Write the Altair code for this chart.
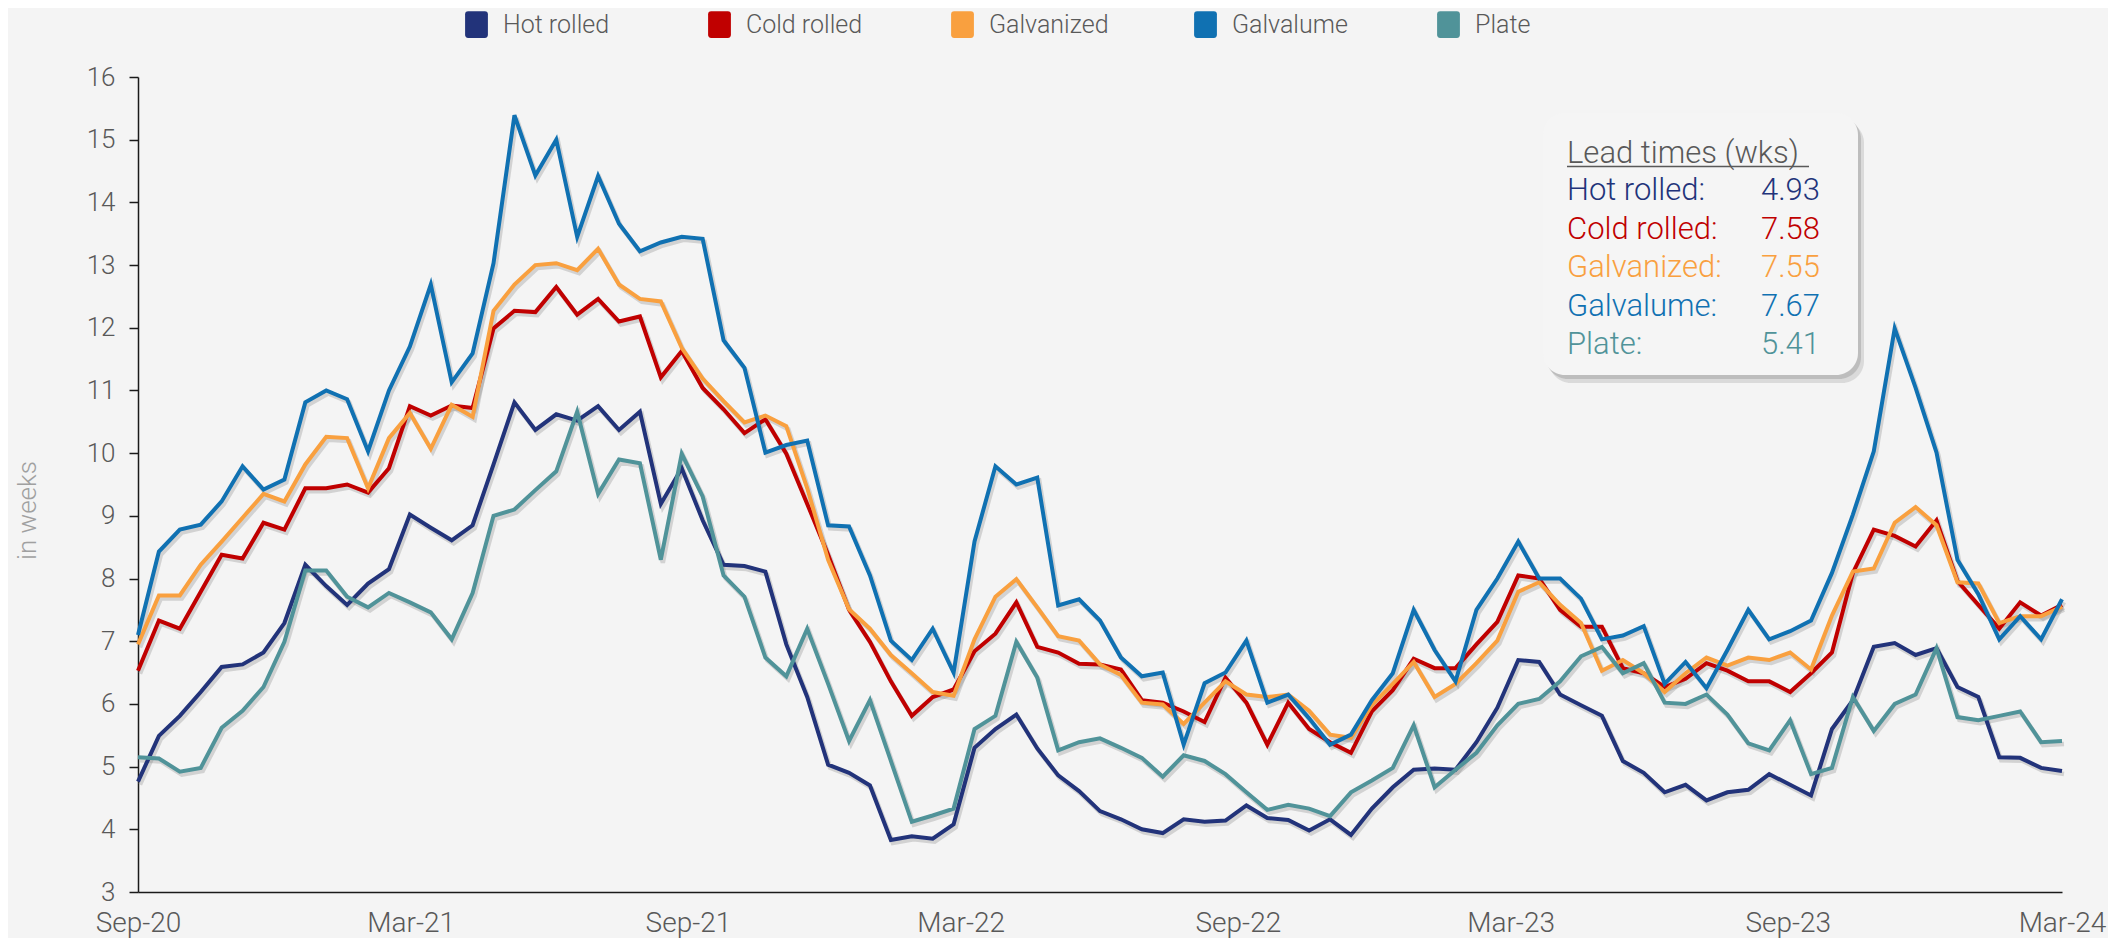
import altair as alt
import pandas as pd

FONT = "Roboto"
series_names = ["Hot rolled", "Cold rolled", "Galvanized", "Galvalume", "Plate"]
series_colors = ["#22337a", "#c00000", "#f9a03f", "#1071b2", "#509399"]

hot_rolled = [4.76, 5.49, 5.81, 6.19, 6.59, 6.63, 6.82, 7.29, 8.22, 7.88, 7.58, 7.92, 8.15, 9.02, 8.81, 8.61, 8.85, 9.82, 10.81, 10.37, 10.62, 10.52, 10.75, 10.37,
              10.66, 9.19, 9.76, 8.93, 8.22, 8.20, 8.11, 6.95, 6.11, 5.03, 4.90, 4.70, 3.83, 3.89, 3.85, 4.08, 5.30, 5.60, 5.83, 5.29, 4.86, 4.61,
              4.29, 4.16, 4.00, 3.94, 4.16, 4.12, 4.14, 4.38, 4.18, 4.15, 3.98, 4.16, 3.91, 4.33, 4.67, 4.95, 4.97, 4.95, 5.39, 5.94, 6.70, 6.67,
              6.15, 5.98, 5.81, 5.09, 4.90, 4.59, 4.71, 4.46, 4.59, 4.63, 4.88, 4.71, 4.54, 5.60, 6.06, 6.91, 6.97, 6.78, 6.89, 6.27, 6.11, 5.15, 5.14, 4.98, 4.93]
cold_rolled = [6.53, 7.33, 7.20, 7.79, 8.38, 8.32, 8.89, 8.78, 9.44, 9.44, 9.50, 9.37, 9.76, 10.75, 10.60, 10.76, 10.72, 11.99, 12.27, 12.25, 12.65, 12.21, 12.46, 12.10,
               12.18, 11.21, 11.63, 11.04, 10.70, 10.32, 10.54, 9.99, 9.19, 8.38, 7.50, 6.99, 6.36, 5.81, 6.11, 6.23, 6.84, 7.12, 7.62, 6.91, 6.82, 6.64,
               6.63, 6.55, 6.06, 6.02, 5.88, 5.71, 6.42, 6.02, 5.35, 6.02, 5.60, 5.39, 5.22, 5.88, 6.22, 6.72, 6.57, 6.57, 6.95, 7.31, 8.05, 8.00,
               7.50, 7.23, 7.23, 6.57, 6.49, 6.27, 6.40, 6.65, 6.53, 6.36, 6.36, 6.19, 6.49, 6.82, 8.09, 8.78, 8.68, 8.51, 8.93, 7.96, 7.58, 7.20, 7.62, 7.41, 7.58]
galvanized = [6.95, 7.73, 7.73, 8.22, 8.59, 8.97, 9.35, 9.23, 9.82, 10.26, 10.24, 9.44, 10.24, 10.64, 10.07, 10.77, 10.58, 12.27, 12.69, 13.00, 13.03, 12.92, 13.26, 12.69,
              12.46, 12.42, 11.68, 11.19, 10.83, 10.49, 10.60, 10.43, 9.44, 8.30, 7.51, 7.20, 6.78, 6.49, 6.19, 6.13, 7.03, 7.71, 7.99, 7.54, 7.08, 7.01,
              6.63, 6.46, 6.02, 5.99, 5.68, 6.02, 6.36, 6.15, 6.11, 6.15, 5.89, 5.51, 5.46, 5.98, 6.32, 6.67, 6.11, 6.32, 6.65, 7.01, 7.79, 7.94,
              7.58, 7.29, 6.53, 6.70, 6.49, 6.19, 6.49, 6.74, 6.61, 6.74, 6.70, 6.82, 6.55, 7.41, 8.11, 8.16, 8.89, 9.14, 8.85, 7.94, 7.92, 7.29, 7.40, 7.40, 7.55]
galvalume = [7.10, 8.43, 8.78, 8.86, 9.23, 9.79, 9.42, 9.58, 10.81, 11.00, 10.86, 10.03, 11.00, 11.70, 12.69, 11.13, 11.59, 13.03, 15.39, 14.43, 15.00, 13.45, 14.42, 13.66,
             13.22, 13.36, 13.45, 13.42, 11.80, 11.36, 10.01, 10.13, 10.20, 8.85, 8.83, 8.05, 7.01, 6.70, 7.20, 6.50, 8.59, 9.79, 9.50, 9.61, 7.57, 7.67,
             7.33, 6.74, 6.44, 6.50, 5.35, 6.33, 6.50, 7.01, 6.02, 6.15, 5.77, 5.35, 5.51, 6.06, 6.49, 7.50, 6.86, 6.36, 7.50, 8.00, 8.59, 8.00,
             8.00, 7.68, 7.03, 7.09, 7.24, 6.32, 6.67, 6.25, 6.86, 7.50, 7.03, 7.16, 7.33, 8.09, 9.02, 10.03, 11.99, 11.04, 10.01, 8.30, 7.75, 7.03, 7.40, 7.03, 7.67]
plate = [5.15, 5.13, 4.92, 4.98, 5.62, 5.89, 6.27, 6.99, 8.13, 8.13, 7.71, 7.54, 7.77, 7.62, 7.46, 7.03, 7.77, 9.00, 9.10, 9.41, 9.71, 10.66, 9.35, 9.90,
         9.84, 8.30, 9.99, 9.31, 8.05, 7.71, 6.74, 6.44, 7.20, 6.32, 5.41, 6.06, 5.09, 4.12, 4.22, 4.33, 5.60, 5.81, 6.99, 6.42, 5.26, 5.39,
         5.45, 5.30, 5.14, 4.84, 5.18, 5.09, 4.88, 4.59, 4.31, 4.39, 4.33, 4.21, 4.59, 4.78, 4.98, 5.66, 4.67, 4.95, 5.22, 5.66, 6.00, 6.08,
         6.36, 6.76, 6.91, 6.49, 6.65, 6.02, 6.00, 6.15, 5.83, 5.37, 5.26, 5.74, 4.88, 4.98, 6.11, 5.57, 6.00, 6.15, 6.89, 5.79, 5.74, 5.81, 5.88, 5.39, 5.41]

all_series = [hot_rolled, cold_rolled, galvanized, galvalume, plate]
n_points = len(hot_rolled)
dates = pd.date_range("2020-09-01", "2024-03-01", periods=n_points)

x_tick_dates = [(2020, 9), (2021, 3), (2021, 9), (2022, 3), (2022, 9), (2023, 3), (2023, 9), (2024, 3)]
y_ticks = list(range(3, 17))

rows = []
for name, vals in zip(series_names, all_series):
    for d, v in zip(dates, vals):
        rows.append({"date": d, "value": v, "series": name})
df = pd.DataFrame(rows)
legend_df = pd.DataFrame({"date": [dates[0]] * len(series_names),
                          "value": [s[0] for s in all_series],
                          "series": series_names})

PLOT_W, PLOT_H = 1924, 815

x_enc = alt.X("date:T",
              scale=alt.Scale(domain=[alt.DateTime(year=2020, month=9, date=1),
                                      alt.DateTime(year=2024, month=3, date=1)]),
              axis=alt.Axis(values=[alt.DateTime(year=y, month=m, date=1) for y, m in x_tick_dates],
                            format="%b-%y", title=None, grid=False, ticks=False,
                            labelFontSize=28, labelColor="#595959", labelFont=FONT, labelFontWeight=300,
                            labelPadding=17, labelFlush=False, labelOverlap=False, labelBound=False,
                            domainColor="#1a1a1a", domainWidth=1.5))
y_enc = alt.Y("value:Q",
              scale=alt.Scale(domain=[3, 16], nice=False, zero=False),
              axis=alt.Axis(values=y_ticks, title="in weeks", grid=False,
                            labelFontSize=26, labelColor="#595959", labelFont=FONT, labelFontWeight=300,
                            tickSize=9, tickWidth=1.5, tickColor="#1a1a1a", labelPadding=14,
                            domainColor="#1a1a1a", domainWidth=1.5,
                            titleFontSize=26, titleColor="#a0a0a0", titleFont=FONT, titleFontWeight=300,
                            titleX=-103, titleY=433, titleBaseline="alphabetic", titleAlign="center", titleAngle=270))

color_scale = alt.Scale(domain=series_names, range=series_colors)
base = alt.Chart(df)

shadow = base.mark_line(strokeWidth=4.5, color="#7a7a7a", opacity=0.28, xOffset=2, yOffset=3,
                        strokeJoin="miter").encode(
    x=x_enc, y=y_enc, detail="series:N")

rrect = ("M-0.62,-1 L0.62,-1 Q0.85,-1 0.85,-0.77 L0.85,0.77 Q0.85,1 0.62,1 "
         "L-0.62,1 Q-0.85,1 -0.85,0.77 L-0.85,-0.77 Q-0.85,-1 -0.62,-1 Z")

lines = base.mark_line(strokeWidth=4, strokeJoin="miter").encode(
    x=x_enc, y=y_enc,
    color=alt.Color("series:N", scale=color_scale, legend=None),
    order=alt.Order("date:T"))

legend_pts = alt.Chart(legend_df).mark_point(filled=True, size=0, opacity=1).encode(
    x=x_enc, y=y_enc,
    color=alt.Color("series:N", scale=color_scale,
                    legend=alt.Legend(orient="none", legendX=325, legendY=-66, direction="horizontal",
                                      columns=5, gridAlign="all", title=None,
                                      symbolType=rrect, symbolSize=720, symbolStrokeWidth=0,
                                      symbolOpacity=1,
                                      labelFontSize=25, labelFont=FONT, labelFontWeight=300,
                                      labelColor="#595959", labelOffset=13, columnPadding=83,
                                      padding=0)))

one = pd.DataFrame({"k": [0]})

# annotation box (plot-relative pixels)
BX0, BX1, BY0, BY1 = 1405, 1720, 36, 298
box_shadow2 = alt.Chart(one).mark_rect(cornerRadius=22, color="#c8c8c8", opacity=0.6).encode(
    x=alt.value(BX0 + 6), x2=alt.value(BX1 + 6), y=alt.value(BY0 + 8), y2=alt.value(BY1 + 8))
box_shadow = alt.Chart(one).mark_rect(cornerRadius=22, color="#b0b0b0", opacity=0.7).encode(
    x=alt.value(BX0 + 3), x2=alt.value(BX1 + 3), y=alt.value(BY0 + 4), y2=alt.value(BY1 + 4))
box = alt.Chart(one).mark_rect(cornerRadius=22, color="#f5f5f5").encode(
    x=alt.value(BX0), x2=alt.value(BX1), y=alt.value(BY0), y2=alt.value(BY1))


def txt(s, x, y, color, align="left", size=31):
    return alt.Chart(one).mark_text(text=s, align=align, baseline="alphabetic", fontSize=size,
                                    font=FONT, fontWeight=300, color=color).encode(
        x=alt.value(x), y=alt.value(y))


box_layers = [box_shadow2, box_shadow, box,
              txt("Lead times (wks)", 1429, 86, "#595959"),
              alt.Chart(one).mark_rule(color="#595959", strokeWidth=1.5).encode(
                  x=alt.value(1429), x2=alt.value(1671), y=alt.value(89.5))]
row_y = [123, 161.5, 200, 238.5, 277]
for name, color, vals, yy in zip(series_names, series_colors, all_series, row_y):
    box_layers.append(txt(f"{name}:", 1429, yy, color))
    box_layers.append(txt(f"{vals[-1]:.2f}", 1682, yy, color, align="right"))

chart = alt.layer(shadow, lines, legend_pts, *box_layers).resolve_legend(
    color="independent"
).properties(
    width=PLOT_W, height=PLOT_H,
    autosize=alt.AutoSizeParams(type="none"),
    padding={"left": 130, "top": 69, "right": 46, "bottom": 46},
    background="#f4f4f4",
).configure_view(stroke=None)

chart.save("out.html", embed_options={"renderer": "svg", "actions": False})
